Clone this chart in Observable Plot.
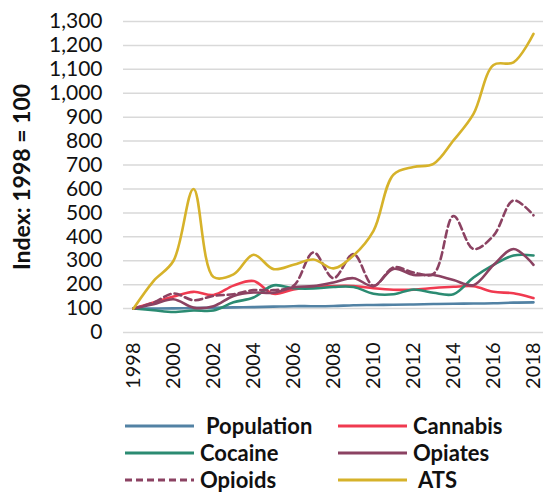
<!DOCTYPE html>
<html>
<head>
<meta charset="utf-8">
<script src="https://cdn.jsdelivr.net/npm/d3@7"></script>
<script src="https://cdn.jsdelivr.net/npm/@observablehq/plot@0.6"></script>
<style>
  html, body { margin: 0; padding: 0; background: #fff; }
  body { width: 543px; height: 492px; overflow: hidden; font-family: Lato, "Open Sans", sans-serif; }
  #legend { position: relative; width: 543px; height: 92px; }
  .item { position: absolute; display: flex; align-items: center; height: 24px; }
  .item span { font-weight: 700; font-size: 22px; color: #111; line-height: 24px; }
  .item svg { display: block; }
</style>
</head>
<body>
<div id="chart"></div>
<div id="legend"></div>
<script>
const years = [1998,1999,2000,2001,2002,2003,2004,2005,2006,2007,2008,2009,2010,2011,2012,2013,2014,2015,2016,2017,2018];
const population = [100,100,101,102,103,105,106,108,110,110,111,114,115,116,117,119,120,121,122,125,126];
const cannabis   = [100,125,150,170,157,196,215,162,180,190,194,194,185,179,179,186,191,193,170,164,144];
const cocaine    = [100,93,86,92,92,126,146,197,185,184,190,190,162,160,180,166,160,230,283,322,322];
const opiates    = [100,118,139,104,110,153,167,166,189,194,209,227,194,266,241,240,219,198,282,349,283];
const opioids    = [100,125,163,135,153,160,177,177,195,335,227,328,195,272,251,245,487,349,405,552,490];
const ats        = [100,215,300,600,232,243,325,265,283,305,268,322,425,660,692,705,803,914,1118,1129,1248];

const seriesNames = ["Population","Cannabis","Cocaine","Opiates","Opioids","ATS"];
const seriesValues = [population, cannabis, cocaine, opiates, opioids, ats];
const colors = ["#5282a4","#f03a50","#2b8b72","#8b4262","#8b4262","#d6b22a"];
const dashed = [false,false,false,false,true,false];
const yTicks = d3.range(0, 1301, 100);
const xTicks = [1998,2000,2002,2004,2006,2008,2010,2012,2014,2016,2018];

const marks = [
  Plot.ruleY(yTicks, {stroke: "#d9d9d9", strokeWidth: 1.5}),
  Plot.axisY(yTicks, {tickSize: 0, tickPadding: 21, tickFormat: d3.format(","), fontSize: 21, label: null}),
  Plot.axisX(xTicks, {tickSize: 0, tickPadding: 10, tickRotate: -90, tickFormat: d => String(d), fontSize: 20, label: null}),
  Plot.text(["Index: 1998 = 100"], {frameAnchor: "left", textAnchor: "middle", rotate: -90, dx: -101, fontSize: 23, fontWeight: "bold", fill: "#111"})
];
seriesNames.forEach((name, i) => {
  const data = years.map((y, j) => ({year: y, value: seriesValues[i][j]}));
  marks.push(Plot.line(data, {
    x: "year", y: "value", stroke: colors[i], strokeWidth: 2.6,
    curve: "catmull-rom",
    strokeDasharray: dashed[i] ? "7,4" : null
  }));
});

const chart = Plot.plot({
  width: 543,
  height: 400,
  marginLeft: 123,
  marginRight: 0,
  marginTop: 21,
  marginBottom: 68,
  style: {fontFamily: "Lato, 'Open Sans', sans-serif", color: "#111", background: "#fff", overflow: "visible"},
  x: {domain: [1997.5, 2018.5]},
  y: {domain: [0, 1300]},
  marks
});
document.getElementById("chart").appendChild(chart);

// legend
const legendPos = [
  {lineX: 125, textX: 206, row: 0},
  {lineX: 338, textX: 413, row: 0},
  {lineX: 125, textX: 200, row: 1},
  {lineX: 338, textX: 413, row: 1},
  {lineX: 125, textX: 200, row: 2},
  {lineX: 338, textX: 418, row: 2}
];
const legend = document.getElementById("legend");
seriesNames.forEach((name, i) => {
  const p = legendPos[i];
  const cy = 26 + p.row * 27;
  const line = document.createElement("div");
  line.className = "item";
  line.style.left = p.lineX + "px";
  line.style.top = (cy - 12) + "px";
  line.innerHTML = `<svg width="69" height="24"><line x1="0" x2="69" y1="12" y2="12" stroke="${colors[i]}" stroke-width="3" ${dashed[i] ? 'stroke-dasharray="7,4"' : ''}/></svg>`;
  legend.appendChild(line);
  const t = document.createElement("div");
  t.className = "item";
  t.style.left = p.textX + "px";
  t.style.top = (cy - 12) + "px";
  t.innerHTML = `<span>${name}</span>`;
  legend.appendChild(t);
});
</script>
</body>
</html>
